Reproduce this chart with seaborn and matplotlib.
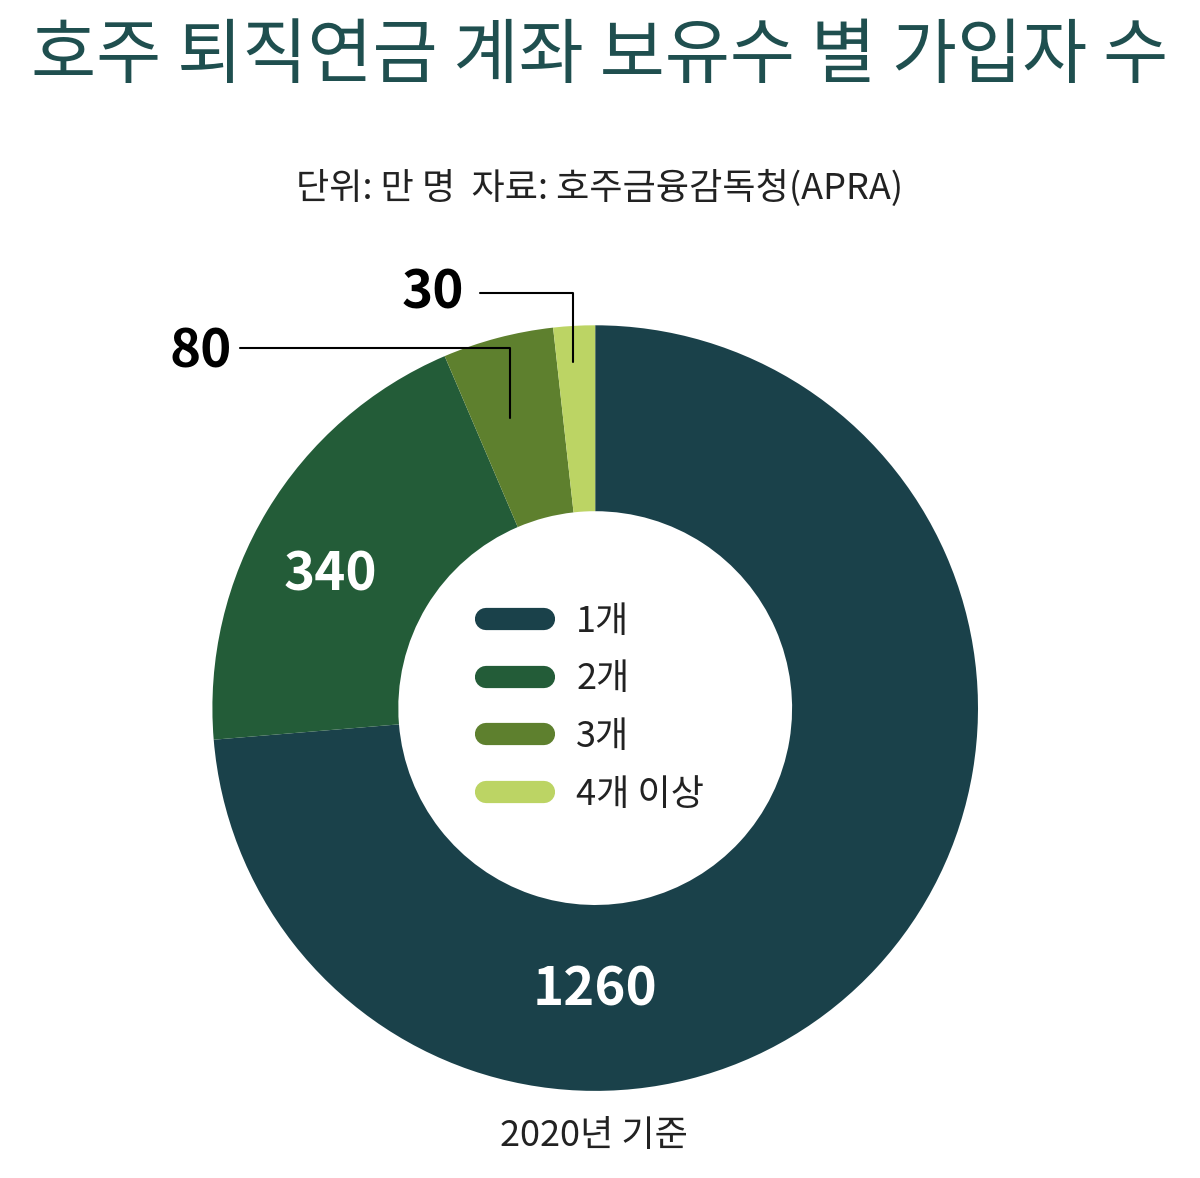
import matplotlib
matplotlib.use("Agg")
import matplotlib.pyplot as plt
import seaborn as sns
from matplotlib.lines import Line2D

categories = ["1개", "2개", "3개", "4개 이상"]
values = [1260, 340, 80, 30]
colors = ["#1a414a", "#235c38", "#5e802e", "#bcd464"]

sns.set_theme(style="white", rc={"font.family": "Noto Sans CJK KR"})
fig = plt.figure(figsize=(12, 11.78), dpi=100)
fig.patch.set_facecolor("white")

fig.text(0.5, 0.952, "호주 퇴직연금 계좌 보유수 별 가입자 수", ha="center", va="center",
         fontsize=51, color="#1f4f4f", fontweight="light")
fig.text(0.5, 0.84, "단위: 만 명  자료: 호주금융감독청(APRA)", ha="center", va="center",
         fontsize=26, color="#222222")
fig.text(0.495, 0.036, "2020년 기준", ha="center", va="center", fontsize=26, color="#222222")

ax = fig.add_axes([0.177, 0.0739, 0.638, 0.650])
wedges, _ = ax.pie(values, colors=colors, startangle=90, counterclock=False,
                   wedgeprops=dict(width=186 / 383, edgecolor="none"), radius=1)
ax.set_xlim(-1, 1)
ax.set_ylim(-1, 1)
ax.set_aspect("equal")
ax.axis("off")

def px(x, y):
    return (x - 595) / 383, (708 - y) / 383

ax.text(*px(595, 990), str(values[0]), color="white", fontsize=38, fontweight="bold",
        ha="center", va="center")
ax.text(*px(330, 575), str(values[1]), color="white", fontsize=38, fontweight="bold",
        ha="center", va="center")
ax.text(*px(200, 352), str(values[2]), color="black", fontsize=38, fontweight="bold",
        ha="center", va="center")
ax.text(*px(433, 293), str(values[3]), color="black", fontsize=38, fontweight="bold",
        ha="center", va="center")
for pts in ([(240, 348), (510, 348), (510, 418)], [(480, 293), (573, 293), (573, 362)]):
    xs, ys = zip(*[px(a, b) for a, b in pts])
    ax.plot(xs, ys, color="black", lw=1.5, clip_on=False)

handles = [Line2D([0], [0], color=c, lw=16, solid_capstyle="round") for c in colors]
leg = ax.legend(handles, categories, loc="center", bbox_to_anchor=(0.5, 0.5),
                frameon=False, fontsize=26, handlelength=1.6, handletextpad=0.9,
                labelspacing=0.6, labelcolor="#222222")

fig.savefig("out.png", dpi=100)
